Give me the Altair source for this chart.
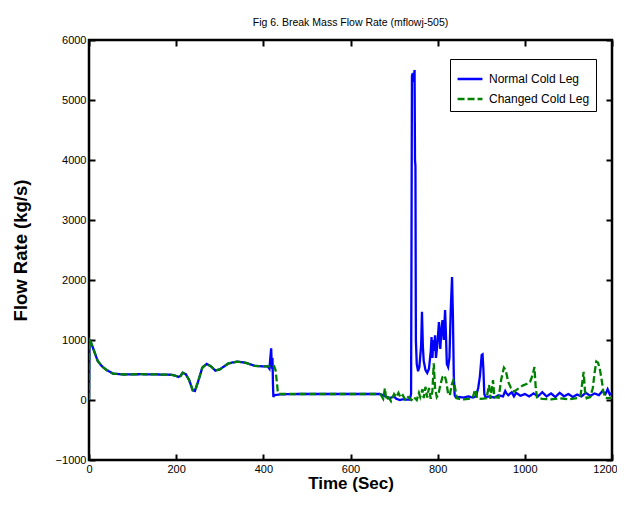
import altair as alt
import pandas as pd

# ---- data ----
normal_t = [0, 1, 5, 10, 20, 30, 40, 55, 80, 120, 160, 190, 200, 205, 210, 215, 222, 230, 238, 243,
            250, 260, 270, 280, 290, 300, 320, 340, 360, 380, 400, 410, 414, 416, 418, 419, 420, 421,
            422, 423, 425, 440, 480, 520, 560, 600, 640, 667, 670, 680, 690, 700, 705, 713, 720, 736,
            739, 741, 743, 745, 747, 748, 749, 750, 752, 755, 758, 762, 764, 766, 768, 772, 776, 780,
            784, 786, 788, 790, 792, 794, 796, 799, 803, 806, 809, 811, 814, 817, 819, 821, 824, 827,
            830, 833, 835, 837, 839, 842, 850, 860, 870, 880, 888, 893, 897, 901, 903, 905, 907, 910,
            920, 930, 940, 950, 955, 958, 962, 970, 975, 980, 990, 1000, 1010, 1020, 1030, 1040, 1050,
            1060, 1070, 1080, 1090, 1100, 1110, 1120, 1130, 1140, 1150, 1160, 1170, 1178, 1185, 1190,
            1195, 1200]
normal_v = [0, 1000, 950, 850, 650, 560, 500, 440, 425, 430, 425, 420, 400, 385, 400, 455, 430, 330, 160, 150,
            300, 540, 600, 560, 490, 510, 610, 640, 620, 570, 560, 560, 520, 700, 860, 650, 520, 700,
            300, 50, 80, 95, 100, 100, 100, 100, 100, 100, 95, 60, 30, 60, 20, 0, 10, 5,
            100, 5400, 5450, 5300, 5500, 4000, 3900, 1000, 600, 480, 550, 900, 1470, 900, 650, 500, 450, 520,
            800, 1050, 700, 1000, 820, 1080, 700, 900, 1300, 850, 1200, 1330, 1000, 1500, 1100, 600, 550, 700,
            1500, 2050, 1400, 400, 80, 40, 50, 40, 60, 40, 60, 200, 400, 750, 760, 500, 100, 50,
            60, 40, 80, 60, 150, 110, 80, 130, 60, 120, 70, 100, 60, 110, 60, 130, 60,
            110, 50, 120, 60, 100, 50, 90, 60, 120, 70, 110, 80, 150, 100, 180,
            90, 120]

changed_t = [0, 1, 5, 10, 20, 30, 40, 55, 80, 120, 160, 190, 200, 205, 210, 215, 222, 230, 238, 243,
             250, 260, 270, 280, 290, 300, 320, 340, 360, 380, 400, 410, 415, 420, 425, 428, 431, 433,
             436, 480, 520, 560, 600, 640, 667, 670, 675, 679, 682, 688, 693, 700, 705, 710, 715, 720,
             725, 730, 740, 745, 752, 757, 760, 765, 768, 772, 776, 780, 784, 788, 791, 794, 798, 802,
             806, 811, 816, 820, 824, 828, 832, 836, 840, 844, 850, 860, 870, 880, 885, 888, 890, 900,
             912, 918, 921, 927, 930, 940, 946, 952, 956, 962, 968, 975, 985, 995, 1005, 1012, 1018,
             1022, 1025, 1028, 1040, 1060, 1080, 1100, 1120, 1128, 1132, 1135, 1138, 1142, 1150, 1156,
             1160, 1164, 1168, 1172, 1176, 1180, 1184, 1190, 1200]
changed_v = [0, 1000, 950, 850, 650, 560, 500, 440, 425, 430, 425, 420, 400, 385, 400, 455, 430, 330, 160, 150,
             300, 540, 600, 560, 490, 510, 610, 640, 620, 570, 560, 560, 560, 540, 560, 500, 300, 150,
             100, 100, 100, 100, 100, 100, 100, 80, 20, 195, 0, 40, -20, 100, 50, 120, 40, 80,
             10, 60, 0, 50, 0, 120, 50, 180, 30, 220, 40, 200, 20, 150, 610, 200, 50, 100,
             250, 380, 410, 300, 100, 80, 250, 330, 200, 30, 20, 10, 20, 30, 150, 170, 30, 20,
             30, 250, 20, 330, 50, 40, 350, 540, 500, 300, 200, 140, 190, 240, 270, 300, 420,
             550, 200, 40, 20, 10, 30, 10, 30, 80, 300, 470, 150, 30, 50, 200,
             450, 640, 620, 520, 350, 150, 40, 30, 40]

series_names = ["Normal Cold Leg", "Changed Cold Leg"]
series_colors = ["#0000ff", "#008000"]
series_dashes = [[1, 0], [7, 3]]
x_ticks = [0, 200, 400, 600, 800, 1000, 1200]
y_ticks = [-1000, 0, 1000, 2000, 3000, 4000, 5000, 6000]

df_n = pd.DataFrame({"t": normal_t, "v": normal_v, "series": series_names[0]})
df_c = pd.DataFrame({"t": changed_t, "v": changed_v, "series": series_names[1]})

SANS = "'Liberation Sans', Arial, sans-serif"

xscale = alt.Scale(domain=[0, 1200], nice=False, zero=False)
yscale = alt.Scale(domain=[-1000, 6000], nice=False, zero=False)

color = alt.Color("series:N", title=None,
                  scale=alt.Scale(domain=series_names, range=series_colors))
dash = alt.StrokeDash("series:N", title=None,
                      scale=alt.Scale(domain=series_names, range=series_dashes))

common_axis = dict(offset=-6, tickSize=6, tickWidth=2, tickColor="black", domain=False,
                   grid=False, labelFont=SANS, labelFontSize=11, labelColor="black",
                   labelFlush=False, labelOverlap=False, format="d")

x_bottom = alt.Axis(values=x_ticks, orient="bottom", labelPadding=3, title="Time (Sec)",
                    titleFont=SANS, titleFontSize=17, titleFontWeight="bold", titleColor="black",
                    titlePadding=1,
                    labelOffset={"condition": {"test": "datum.value == 1200", "value": -7}, "value": 0},
                    **common_axis)
y_left = alt.Axis(values=y_ticks, orient="left", labelPadding=3, title="Flow Rate (kg/s)",
                  titleFont=SANS, titleFontSize=18.5, titleFontWeight="bold", titleColor="black",
                  titlePadding=25, **common_axis)
x_top = alt.Axis(values=x_ticks, orient="top", labels=False, title=None, **common_axis)
y_right = alt.Axis(values=y_ticks, orient="right", labels=False, title=None, **common_axis)

normal_layer = alt.Chart(df_n).mark_line(strokeWidth=2.3, clip=True).encode(
    x=alt.X("t:Q", scale=xscale, axis=x_bottom),
    y=alt.Y("v:Q", scale=yscale, axis=y_left),
    color=color, strokeDash=dash,
)
changed_layer = alt.Chart(df_c).mark_line(strokeWidth=2.3, clip=True).encode(
    x=alt.X("t:Q", scale=xscale, axis=None),
    y=alt.Y("v:Q", scale=yscale, axis=None),
    color=color, strokeDash=dash,
)
frame_layer = alt.Chart(df_n).mark_line(opacity=0).encode(
    x=alt.X("t:Q", scale=xscale, axis=x_top),
    y=alt.Y("v:Q", scale=yscale, axis=y_right),
)

chart = alt.layer(normal_layer, changed_layer, frame_layer).resolve_axis(
    x="independent", y="independent"
).properties(
    width=523, height=420,
    autosize=alt.AutoSizeParams(type="none"),
    padding={"left": 81, "top": 32, "right": 5, "bottom": 34},
    background="white",
    title=alt.TitleParams("Fig 6. Break Mass Flow Rate (mflowj-505)", font=SANS, fontSize=10.5,
                          fontWeight="normal", color="black", offset=6, anchor="middle"),
).configure_view(
    stroke="black", strokeWidth=2.5
).configure_legend(
    orient="none", legendX=361, legendY=19, fillColor="white", strokeColor="black",
    padding=6, symbolType="stroke", symbolSize=620, symbolStrokeWidth=2.3,
    labelFont=SANS, labelFontSize=12, labelColor="black", rowPadding=0, labelOffset=5,
    cornerRadius=0,
)

chart.save("out.html", embed_options={"renderer": "svg", "actions": False})
